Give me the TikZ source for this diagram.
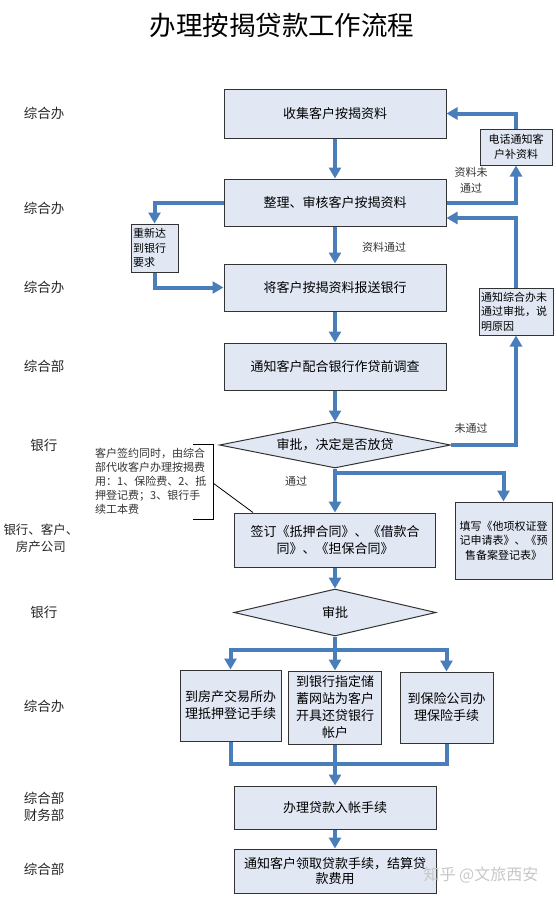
\documentclass[tikz,border=0pt]{standalone}
\usepackage{fontspec}
\setmainfont{Noto Sans CJK SC}
\usetikzlibrary{arrows.meta,shapes.geometric,positioning}
\definecolor{flowblue}{HTML}{4A7EBB}
\definecolor{boxfill}{HTML}{E1E8F4}
\definecolor{boxline}{HTML}{333333}
\newcommand{\flowfont}{\fontsize{13pt}{17pt}\selectfont}
\newcommand{\sidefont}{\fontsize{11pt}{14.5pt}\selectfont}
\newcommand{\unitfont}{\fontsize{13.5pt}{17pt}\selectfont}
\tikzstyle{stepbox}=[rectangle,draw=boxline,fill=boxfill,line width=1pt,inner sep=2pt,align=center,font=\flowfont]
\tikzstyle{sidebox}=[stepbox,font=\sidefont]
\tikzstyle{decision}=[diamond,draw=boxline,fill=boxfill,line width=1pt,inner sep=0pt]
\tikzstyle{flowline}=[draw,flowblue,line width=4pt]
\tikzstyle{flowarrow}=[flowline,-{Triangle[width=12pt,length=11pt]}]
\tikzstyle{unit}=[align=center,font=\unitfont,text=black!85]
\tikzstyle{remark}=[font=\sidefont,align=center,inner sep=0pt,text=black!80]
\tikzstyle{bracket}=[draw,black,line width=0.8pt]

\begin{document}
\begin{tikzpicture}[x=1pt,y=-1pt]
    \useasboundingbox (0,0) rectangle (555,898);
    % title
    \node[font=\fontsize{26.5pt}{30pt}\selectfont] (title) at (282,25) {办理按揭贷款工作流程};

    % departments on the left
    \foreach \pos/\name/\txt in {{(44,113)/u1/综合办}, {(44,208)/u2/综合办}, {(44,287)/u3/综合办},
        {(44,366)/u4/综合部}, {(44,445)/u5/银行}, {(44,612)/u7/银行}, {(44,706)/u8/综合办},
        {(44,806.5)/u9/{综合部\\财务部}}, {(44,869)/u10/综合部}}
        \node[unit] (\name) at \pos {\txt};
    \node[unit,font=\fontsize{12.5pt}{17pt}\selectfont] (u6) at (41,538.5) {银行、客户、\\房产公司};

    % main column
    \node[stepbox,minimum width=222pt,minimum height=49pt] (collect) at (335,113.5) {收集客户按揭资料};
    \node[stepbox,minimum width=222pt,minimum height=47pt] (check) at (335,202.5) {整理、审核客户按揭资料};
    \node[stepbox,minimum width=222pt,minimum height=47pt] (submit) at (335,287.5) {将客户按揭资料报送银行};
    \node[stepbox,minimum width=222pt,minimum height=47pt] (survey) at (335,366.5) {通知客户配合银行作贷前调查};
    \node[decision,minimum width=231pt,minimum height=46pt,
        label={[font=\flowfont]center:审批，决定是否放贷}] (approve) at (335,445) {};
    \node[stepbox,minimum width=201pt,minimum height=54pt] (sign) at (335,540) {签订《抵押合同》、《借款合\\同》、《担保合同》};
    \node[decision,minimum width=202pt,minimum height=47pt,
        label={[font=\flowfont]center:审批}] (review) at (335,612.5) {};
    \node[stepbox,minimum width=101pt,minimum height=71pt] (mortgage) at (230.5,705.5) {到房产交易所办\\理抵押登记手续};
    \node[stepbox,minimum width=93pt,minimum height=73pt] (account) at (335,707.5) {到银行指定储\\蓄网站为客户\\开具还贷银行\\帐户};
    \node[stepbox,minimum width=93pt,minimum height=71pt] (insure) at (446.5,707.5) {到保险公司办\\理保险手续};
    \node[stepbox,minimum width=202pt,minimum height=43pt] (credit) at (335,807.5) {办理贷款入帐手续};
    \node[stepbox,minimum width=202pt,minimum height=44pt,font=\fontsize{13pt}{15pt}\selectfont] (settle) at (335,871) {通知客户领取贷款手续，结算贷\\款费用};

    % side boxes
    \node[sidebox,text width=43pt,align=left,minimum height=48pt] (redo) at (154.5,248) {重新达\\到银行\\要求};
    \node[sidebox,minimum width=72pt,minimum height=36pt] (phone) at (516,147) {电话通知客\\户补资料};
    \node[sidebox,text width=70pt,align=left,minimum height=47pt] (notify) at (516,311.5) {通知综合办未\\通过审批，说\\明原因};
    \node[sidebox,minimum width=97pt,minimum height=77pt] (forms) at (503.5,540.5) {填写《他项权证登\\记申请表》、《预\\售备案登记表》};

    % note on the fees
    \node[remark,align=left,font=\fontsize{11pt}{14pt}\selectfont,anchor=west] (fees) at (95,481)
        {客户签约同时，由综合\\部代收客户办理按揭费\\用：1、保险费、2、抵\\押登记费；3、银行手\\续工本费};
    \draw[bracket] (193,444) -- (213,444) -- coordinate[pos=0.52] (feeref) (213,519) -- (193,519);
    \draw[bracket] (feeref) -- ([xshift=19pt]sign.north west);

    % flow
    \draw[flowarrow] (collect) -- (check);
    \draw[flowarrow] (check) -- (submit);
    \node[remark] (passlbl) at (384,247) {资料通过};
    \draw[flowarrow] (check.west) -| (redo.north);
    \draw[flowarrow] (redo.south) |- (submit.west);
    \draw[flowarrow] (check.east) -| (phone.south);
    \node[remark,font=\fontsize{11pt}{16pt}\selectfont] (misslbl) at (471,180) {资料未\\通过};
    \draw[flowarrow] (phone.north) |- (collect.east);
    \draw[flowarrow] (submit) -- (survey);
    \draw[flowarrow] (survey) -- (approve);
    \draw[flowarrow] (approve.east) -| (notify.south);
    \node[remark] (faillbl) at (471,428) {未通过};
    \draw[flowarrow] (notify.north) |- ([yshift=-15.5pt]check.east);
    \draw[flowarrow] (approve.south) -- (sign.north);
    \node[remark] (oklbl) at (296,481) {通过};
    \draw[flowarrow] ([yshift=-4pt]approve.south) -| (forms.north);
    \draw[flowarrow] (sign) -- (review);

    \coordinate (split) at ([yshift=-13pt]review.south);
    \draw[flowline] (review.south) -- (split);
    \foreach \dest in {mortgage,account,insure}
        \draw[flowarrow] (split) -| (\dest.north);

    \coordinate (merge) at (335,764);
    \draw[flowline] (mortgage.south) |- (merge) -| (insure.south);
    \draw[flowline] (account.south) -- (merge);
    \draw[flowarrow] (merge) -- (credit.north);
    \draw[flowarrow] (credit) -- (settle);

    \node[text=black!22,font=\fontsize{16pt}{16pt}\selectfont] (mark) at (481,875) {知乎 @文旅西安};
\end{tikzpicture}
\end{document}
